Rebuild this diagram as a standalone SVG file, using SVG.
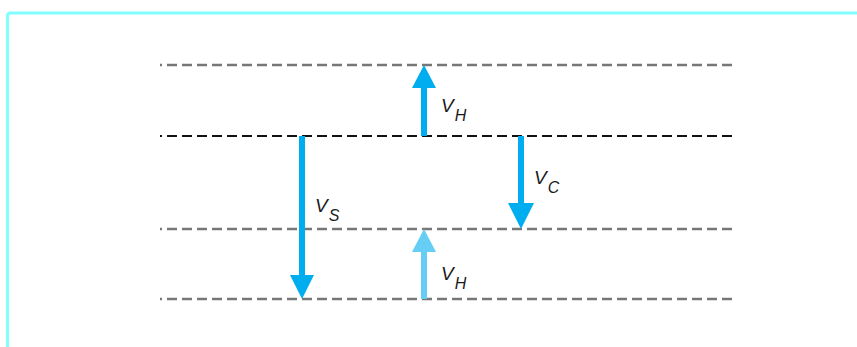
<svg xmlns="http://www.w3.org/2000/svg" width="857" height="347" viewBox="0 0 857 347">
<style>
.frame{fill:none;stroke:#80ffff;stroke-width:3}
.lvl{fill:none;stroke-dasharray:10 5;stroke-dashoffset:8}
.g{stroke:#777;stroke-width:2.4}
.k{stroke:#111;stroke-width:1.8}
.ar{stroke:#00aeef;stroke-width:6}
.arh{fill:#00aeef}
.al{stroke:#66cdf4;stroke-width:6}
.alh{fill:#66cdf4}
.lb{font-family:"Liberation Sans",Arial,sans-serif;font-style:italic;fill:#1a1a1a}
.v{font-size:19px}
.s{font-size:16px}
</style>
<rect width="857" height="347" fill="#fff"/>
<path class="frame" d="M7.5,347 V16 Q7.5,13 10.5,13 H857"/>
<g id="levels">
<line class="lvl g" x1="160" y1="65" x2="735" y2="65"/>
<line class="lvl k" x1="160" y1="136" x2="735" y2="136"/>
<line class="lvl g" x1="160" y1="229" x2="735" y2="229"/>
<line class="lvl g" x1="160" y1="299" x2="735" y2="299"/>
</g>
<g id="connectors">
<g id="vh-top">
<line class="ar" x1="424" y1="136" x2="424" y2="86"/>
<polygon class="arh" points="424,65 436,88 412,88"/>
</g>
<g id="vs">
<line class="ar" x1="302" y1="136" x2="302" y2="277"/>
<polygon class="arh" points="302,299 314,275 290,275"/>
</g>
<g id="vc">
<line class="ar" x1="521" y1="136" x2="521" y2="205"/>
<polygon class="arh" points="521,229 534,203 508,203"/>
</g>
<g id="vh-bottom">
<line class="al" x1="424" y1="299" x2="424" y2="250"/>
<polygon class="alh" points="424,229 436,252 412,252"/>
</g>
</g>
<g id="labels">
<text class="lb" x="441" y="112"><tspan class="v">V</tspan><tspan class="s" dx="1" dy="9">H</tspan></text>
<text class="lb" x="534" y="184"><tspan class="v">V</tspan><tspan class="s" dx="1" dy="9">C</tspan></text>
<text class="lb" x="315" y="212"><tspan class="v">V</tspan><tspan class="s" dx="1" dy="9">S</tspan></text>
<text class="lb" x="441" y="280"><tspan class="v">V</tspan><tspan class="s" dx="1" dy="9">H</tspan></text>
</g>
</svg>
